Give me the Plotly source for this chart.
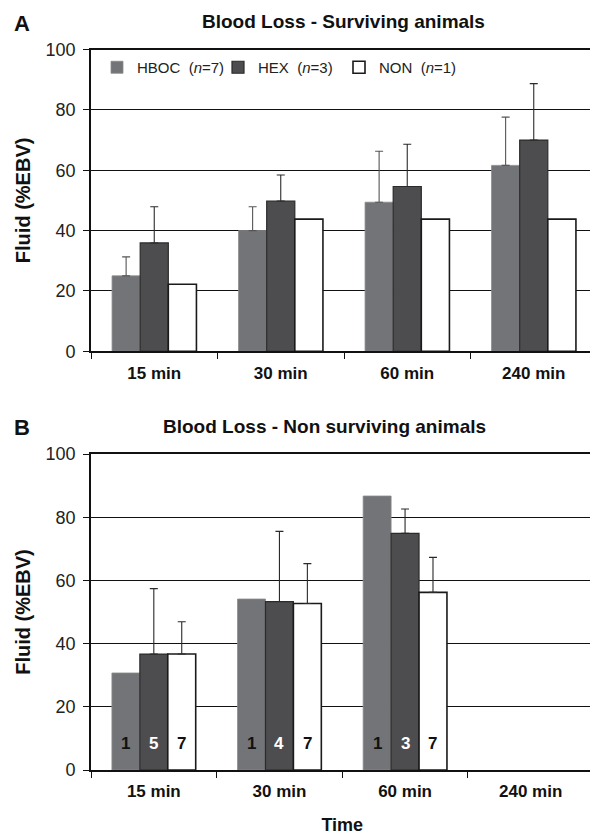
import plotly.graph_objects as go

# ---------------- data ----------------
times = ["15 min", "30 min", "60 min", "240 min"]
groups = ["HBOC", "HEX", "NON"]
legend_n = [7, 3, 1]

# Panel A - surviving animals (mean %EBV and upper SD)
a_hboc = [25.0, 40.0, 49.4, 61.6]
a_hex = [35.9, 49.8, 54.6, 70.0]
a_non = [22.2, 43.8, 43.8, 43.8]
a_hboc_sd = [6.3, 7.9, 16.9, 16.0]
a_hex_sd = [12.0, 8.6, 14.0, 18.7]

# Panel B - non surviving animals
b_hboc = [30.7, 54.1, 86.7, None]
b_hex = [36.7, 53.3, 74.9, None]
b_non = [36.7, 52.7, 56.2, None]
b_hex_sd = [20.7, 22.2, 7.7, None]
b_non_sd = [10.2, 12.6, 11.1, None]
b_n_hboc = ["1", "1", "1"]
b_n_hex = ["5", "4", "3"]
b_n_non = ["7", "7", "7"]

# ---------------- styles ----------------
FONT = "Liberation Sans, Arial, sans-serif"
fills = ["#737477", "#4d4d50", "#ffffff"]
edges = ["#8a8a8c", "#2b2b2b", "#1a1a1a"]
edge_w = [0.8, 1.2, 1.6]
err_col = ["#555555", "#2a2a2a", "#2a2a2a"]
BARGAP = 0.333

fig = go.Figure()


def add_bar(name, ys, sd, i, xa, ya, show):
    err = None
    if sd is not None:
        err = dict(type="data", symmetric=False, array=sd,
                   arrayminus=[0 if v is not None else None for v in sd],
                   color=err_col[i], thickness=1.1, width=4)
    fig.add_trace(go.Bar(
        x=times, y=ys, name=f"{name}  (<i>n</i>={legend_n[i]})",
        marker=dict(color=fills[i], line=dict(color=edges[i], width=edge_w[i])),
        error_y=err if err else dict(visible=False),
        xaxis=xa, yaxis=ya, showlegend=show, legendgroup=name,
        hoverinfo="skip",
    ))


a_vals = [a_hboc, a_hex, a_non]
a_sds = [a_hboc_sd, a_hex_sd, None]
b_vals = [b_hboc, b_hex, b_non]
b_sds = [None, b_hex_sd, b_non_sd]
for i, g in enumerate(groups):
    add_bar(g, a_vals[i], a_sds[i], i, "x", "y", True)
for i, g in enumerate(groups):
    add_bar(g, b_vals[i], b_sds[i], i, "x2", "y2", False)

# n labels inside bars of panel B
bw = (1 - BARGAP) / 3
annotations = []
n_lists = [b_n_hboc, b_n_hex, b_n_non]
n_cols = ["#111111", "#ffffff", "#111111"]
for j, labels in enumerate(n_lists):
    for k, lab in enumerate(labels):
        annotations.append(dict(
            x=k + (j - 1) * bw, y=8.5, xref="x2", yref="y2", text=f"<b>{lab}</b>",
            showarrow=False, font=dict(family=FONT, size=17, color=n_cols[j]),
            xanchor="center", yanchor="middle"))

# page body adds an 8px margin; the figure is laid out in reference pixels
OFF = 8
W, H = 598 - OFF, 835 - OFF
def px_x(p):
    return (p - OFF) / W
def px_y(p):
    return 1 - (p - OFF) / H

# titles and panel letters
for letter, title, xc, yc, ylet in [("A", "Blood Loss - Surviving animals", 343, 22, 23),
                                    ("B", "Blood Loss - Non surviving animals", 324, 426, 427)]:
    annotations.append(dict(x=px_x(xc), y=px_y(yc), xref="paper", yref="paper",
                            text=f"<b>{title}</b>", showarrow=False,
                            font=dict(family=FONT, size=19, color="#111"),
                            xanchor="center", yanchor="middle"))
    annotations.append(dict(x=px_x(22), y=px_y(ylet), xref="paper", yref="paper",
                            text=f"<b>{letter}</b>", showarrow=False,
                            font=dict(family=FONT, size=22, color="#111"),
                            xanchor="center", yanchor="middle"))

xcommon = dict(type="category", showline=True, linecolor="#111", linewidth=1.6,
               ticks="outside", tickson="boundaries", ticklen=6, tickcolor="#111",
               tickwidth=1.4, mirror=True, showgrid=False, automargin=False,
               tickfont=dict(family=FONT, size=17, color="#111", weight="bold"),
               ticklabelstandoff=5, fixedrange=True)
ycommon = dict(range=[0, 100], dtick=20, showline=True, linecolor="#111", linewidth=1.6,
               ticks="outside", ticklen=6, tickcolor="#111", tickwidth=1.4,
               showgrid=True, gridcolor="#111", gridwidth=1.3, zeroline=False,
               mirror=True, automargin=False, ticklabelstandoff=4,
               tickfont=dict(family=FONT, size=18, color="#222"),
               title=dict(text="<b>Fluid (%EBV)</b>", standoff=10,
                          font=dict(family=FONT, size=20, color="#111")),
               fixedrange=True)

fig.update_layout(
    template="none",
    width=W, height=H, margin=dict(l=0, r=0, t=0, b=0, autoexpand=False),
    paper_bgcolor="white", plot_bgcolor="white",
    barmode="group", bargap=BARGAP, bargroupgap=0,
    font=dict(family=FONT, color="#111"),
    xaxis=dict(domain=[px_x(91), min(1.0, px_x(597))], anchor="y", **xcommon),
    yaxis=dict(domain=[px_y(351.3), px_y(49.5)], anchor="x", **ycommon),
    xaxis2=dict(domain=[px_x(91), px_x(593.5)], anchor="y2",
                title=dict(text="<b>Time</b>", standoff=23,
                           font=dict(family=FONT, size=18, color="#111")),
                **xcommon),
    yaxis2=dict(domain=[px_y(770), px_y(454)], anchor="x2", **ycommon),
    legend=dict(orientation="h", x=px_x(97), y=px_y(51), xanchor="left", yanchor="top",
                bgcolor="rgba(0,0,0,0)", font=dict(family=FONT, size=15, color="#222"),
                itemwidth=30, entrywidth=76, entrywidthmode="pixels",
                traceorder="normal"),
    annotations=annotations,
    showlegend=True,
)

fig.write_html("out.html")
